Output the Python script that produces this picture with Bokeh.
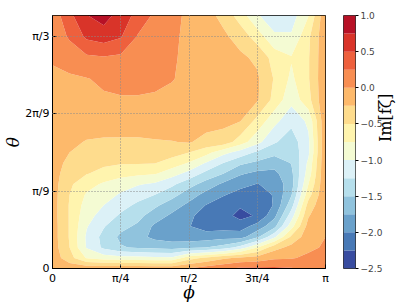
import numpy as np
from bokeh.plotting import figure
from bokeh.models import FixedTicker, Range1d
from bokeh.layouts import row
from bokeh.embed import file_html
from bokeh.resources import INLINE

PI = np.pi

# sample grid: phi in units of pi/16, theta in units of pi/33
phi_idx = list(range(17))
theta_idx = [12, 11, 10, 9, 8, 7, 6, 5.5, 5, 4.5, 4, 3.5, 3, 2.5, 2, 1.5, 1, 0.5, 0]

# Im[f_zeta], rows listed from the top (largest theta) down
im_rows = [
    [0.10, 0.43, 0.74, 0.86, 0.64, 0.42, 0.20, 0.07, -0.05, -0.16, -0.32, -0.62, -0.97, -1.18, -1.12, -0.76, -0.05],
    [0.10, 0.28, 0.55, 0.62, 0.52, 0.23, 0.13, 0.04, -0.05, -0.12, -0.20, -0.35, -0.62, -0.95, -0.97, -0.55, -0.05],
    [0.04, 0.12, 0.20, 0.23, 0.20, 0.15, 0.08, 0.02, -0.04, -0.10, -0.16, -0.20, -0.30, -0.60, -0.73, -0.52, -0.05],
    [-0.07, -0.04, -0.01, 0.04, 0.07, 0.07, 0.05, 0.01, -0.05, -0.10, -0.14, -0.18, -0.21, -0.52, -0.80, -0.52, -0.04],
    [-0.08, -0.07, -0.05, -0.03, -0.02, -0.02, -0.03, -0.05, -0.08, -0.10, -0.13, -0.17, -0.22, -0.58, -0.92, -0.58, -0.03],
    [-0.10, -0.10, -0.08, -0.06, -0.05, -0.05, -0.06, -0.08, -0.11, -0.15, -0.19, -0.24, -0.58, -0.92, -1.18, -0.95, -0.03],
    [-0.12, -0.18, -0.27, -0.30, -0.31, -0.31, -0.28, -0.26, -0.23, -0.33, -0.35, -0.62, -0.92, -1.22, -1.38, -1.05, -0.03],
    [-0.12, -0.25, -0.34, -0.37, -0.39, -0.39, -0.39, -0.40, -0.50, -0.66, -0.92, -1.10, -1.30, -1.43, -1.42, -1.05, -0.02],
    [-0.13, -0.32, -0.42, -0.46, -0.48, -0.48, -0.49, -0.61, -0.77, -1.02, -1.25, -1.45, -1.55, -1.64, -1.49, -0.95, -0.02],
    [-0.13, -0.40, -0.49, -0.57, -0.67, -0.70, -0.73, -0.90, -1.09, -1.33, -1.50, -1.72, -1.82, -1.82, -1.56, -0.88, -0.02],
    [-0.14, -0.46, -0.65, -0.79, -0.88, -0.98, -1.04, -1.20, -1.41, -1.60, -1.80, -1.93, -2.01, -1.93, -1.60, -0.75, -0.02],
    [-0.14, -0.50, -0.78, -0.89, -1.03, -1.15, -1.25, -1.41, -1.63, -1.83, -1.98, -2.08, -2.12, -1.98, -1.52, -0.60, -0.02],
    [-0.14, -0.52, -0.85, -1.00, -1.16, -1.30, -1.45, -1.63, -1.81, -2.01, -2.12, -2.22, -2.20, -1.98, -1.35, -0.40, -0.02],
    [-0.14, -0.52, -0.91, -1.10, -1.29, -1.43, -1.62, -1.80, -1.94, -2.13, -2.15, -2.33, -2.22, -1.82, -1.12, -0.27, -0.02],
    [-0.13, -0.52, -0.98, -1.23, -1.43, -1.54, -1.80, -1.90, -1.99, -2.10, -2.10, -2.12, -1.90, -1.58, -0.85, -0.15, -0.02],
    [-0.13, -0.52, -1.04, -1.33, -1.55, -1.66, -1.82, -1.88, -1.90, -1.88, -1.84, -1.85, -1.55, -1.05, -0.45, -0.10, 0.00],
    [-0.12, -0.50, -1.02, -1.30, -1.48, -1.53, -1.57, -1.60, -1.55, -1.50, -1.40, -1.15, -0.76, -0.35, -0.17, -0.05, 0.03],
    [-0.10, -0.40, -0.77, -0.87, -0.90, -0.92, -0.94, -0.95, -0.60, -0.45, -0.30, -0.20, -0.15, -0.04, -0.02, 0.05, 0.08],
    [-0.06, -0.08, -0.06, -0.05, -0.05, -0.05, -0.06, -0.05, 0.02, 0.12, 0.20, 0.30, 0.30, 0.30, 0.27, 0.20, 0.12],
]

levels = [-2.5, -2.25, -2.0, -1.75, -1.5, -1.25, -1.0, -0.75, -0.5, -0.25, 0.0, 0.25, 0.5, 0.75, 1.0]
cbar_ticks = [-2.5, -2.0, -1.5, -1.0, -0.5, 0.0, 0.5, 1.0]
x_ticks = [0, PI / 4, PI / 2, 3 * PI / 4, PI]
x_tick_labels = ["0", "π/4", "π/2", "3π/4", "π"]
y_ticks = [0, PI / 9, 2 * PI / 9, PI / 3]
y_tick_labels = ["0", "π/9", "2π/9", "π/3"]

# RdYlBu reversed anchors
anchors = ["#313695", "#4575b4", "#74add1", "#abd9e9", "#e0f3f8", "#ffffbf",
           "#fee090", "#fdae61", "#f46d43", "#d73027", "#a50026"]


def hex2rgb(h):
    return np.array([int(h[i:i + 2], 16) for i in (1, 3, 5)], dtype=float)


arr = np.array([hex2rgb(h) for h in anchors])


def cmap(t):
    pos = t * (len(anchors) - 1)
    i = min(int(np.floor(pos)), len(anchors) - 2)
    f = pos - i
    col = arr[i] * (1 - f) + arr[i + 1] * f
    return "#%02x%02x%02x" % tuple(int(round(v)) for v in col)


nb = len(levels) - 1
palette = [cmap((k + 0.5) / nb) for k in range(nb)]

phi = np.array(phi_idx) * PI / 16
theta = np.array(theta_idx)[::-1] * PI / 33
z = np.array(im_rows)[::-1]

TMAX = 12 * PI / 33

p = figure(width=338, height=305, x_range=Range1d(0, PI), y_range=Range1d(0, TMAX),
           output_backend="svg", toolbar_location=None,
           min_border_left=48, min_border_right=13, min_border_top=15, min_border_bottom=37)
cr = p.contour(phi, theta, z, levels, fill_color=palette)
if cr.line_renderer is not None:
    cr.line_renderer.visible = False

p.xaxis.ticker = FixedTicker(ticks=x_ticks)
p.xaxis.major_label_overrides = {t: s for t, s in zip(x_ticks, x_tick_labels)}
p.yaxis.ticker = FixedTicker(ticks=y_ticks)
p.yaxis.major_label_overrides = {t: s for t, s in zip(y_ticks, y_tick_labels)}
for ax in (p.xaxis[0], p.yaxis[0]):
    ax.major_tick_in = 4
    ax.major_tick_out = 0
    ax.minor_tick_in = 0
    ax.minor_tick_out = 0
    ax.major_label_text_font = "DejaVu Sans"
    ax.major_label_text_font_size = "11px"
    ax.major_label_text_color = "black"
    ax.axis_line_color = "black"
    ax.major_tick_line_color = "black"
    ax.major_label_standoff = 3
    ax.axis_label_text_font = "DejaVu Serif"
    ax.axis_label_text_font_style = "italic"
    ax.axis_label_text_font_size = "17px"
    ax.axis_label_text_color = "black"
p.xaxis.axis_label = "ϕ"
p.yaxis.axis_label = "θ"
p.xaxis.axis_label_standoff = -6
p.yaxis.axis_label_standoff = -1
for g in (p.xgrid[0], p.ygrid[0]):
    g.grid_line_color = "#8a8a8a"
    g.grid_line_dash = "1 2"
    g.grid_line_width = 1
    g.level = "overlay"
p.outline_line_color = "black"
p.outline_line_alpha = 1.0

# colour bar as a small figure
c = figure(width=69, height=305, x_range=Range1d(0, 1), y_range=Range1d(levels[0], levels[-1]),
           output_backend="svg", toolbar_location=None, x_axis_location=None, y_axis_location="right",
           min_border_left=5, min_border_right=51, min_border_top=15, min_border_bottom=37)
c.quad(left=0, right=1, bottom=levels[:-1], top=levels[1:], fill_color=palette, line_color=None)
c.xgrid.visible = False
c.ygrid.visible = False
ya = c.yaxis[0]
ya.ticker = FixedTicker(ticks=cbar_ticks)
ya.major_label_overrides = {t: ("%.1f" % t).replace("-", "−") for t in cbar_ticks}
ya.major_tick_in = 0
ya.major_tick_out = 3
ya.minor_tick_in = 0
ya.minor_tick_out = 0
ya.major_label_text_font = "DejaVu Sans"
ya.major_label_text_font_size = "9px"
ya.major_label_standoff = 2
ya.axis_line_color = None
ya.axis_label = "Im[fζ]"
ya.axis_label_text_font = "DejaVu Serif"
ya.axis_label_text_font_style = "normal"
ya.axis_label_text_font_size = "16px"
ya.axis_label_text_color = "black"
ya.axis_label_standoff = 0
try:
    ya.axis_label_orientation = PI / 2
except Exception:
    pass
c.outline_line_color = "#333333"

layout = row(p, c)
open("out.html", "w").write(file_html(layout, INLINE))
